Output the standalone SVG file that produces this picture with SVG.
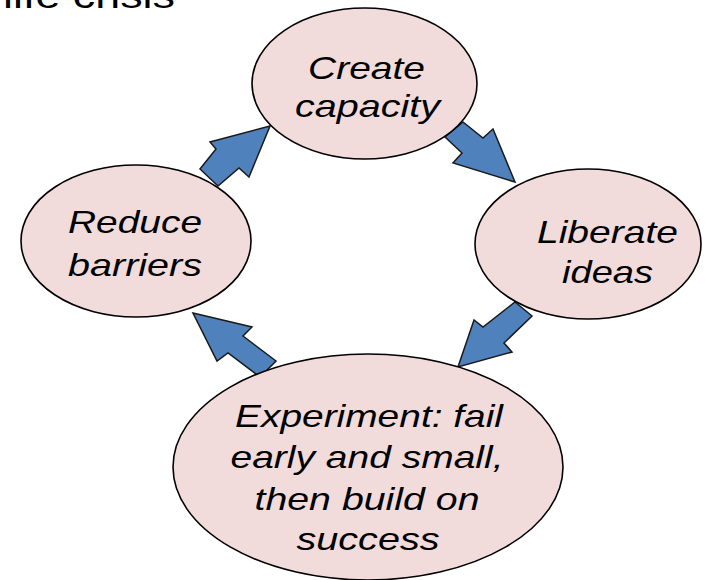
<svg xmlns="http://www.w3.org/2000/svg" width="709" height="580" viewBox="0 0 709 580">
<style>
.node ellipse{fill:#F2DCDB;stroke:#000;stroke-width:1.6}
.node text{font-family:"Liberation Sans",Arial,sans-serif;font-style:italic;font-size:32px;fill:#000;text-anchor:middle}
.arrow{fill:#4F81BD;stroke:#1a1a1a;stroke-width:1.5;stroke-linejoin:miter}
.title{font-family:"Liberation Sans",Arial,sans-serif;font-size:35px;fill:#000}
</style>
<rect width="709" height="580" fill="#fff"/>
<text class="title" x="3" y="8" textLength="172" lengthAdjust="spacingAndGlyphs">life crisis</text>
<g id="connectors">
<polygon class="arrow" points="270,126 210,142 216,149 200,169 218,186 239,168 249,177"/>
<polygon class="arrow" points="463,122 483,138 493,129 515,182 453,163 462,153 445,137"/>
<polygon class="arrow" points="515,302 532,316 504,343 512,352 458,367 474,320 483,327"/>
<polygon class="arrow" points="193,313 252,327 243,336 276,361 260,377 228,353 217,361"/>
</g>
<g id="create" class="node">
<ellipse cx="364.5" cy="83.5" rx="112.5" ry="75.5"/>
<text x="366.5" y="79" textLength="117" lengthAdjust="spacingAndGlyphs">Create</text>
<text x="367.5" y="117" textLength="145" lengthAdjust="spacingAndGlyphs">capacity</text>
</g>
<g id="liberate" class="node">
<ellipse cx="588" cy="244" rx="113" ry="75"/>
<text x="607.5" y="243" textLength="141" lengthAdjust="spacingAndGlyphs">Liberate</text>
<text x="607.5" y="283" textLength="91" lengthAdjust="spacingAndGlyphs">ideas</text>
</g>
<g id="reduce" class="node">
<ellipse cx="136" cy="241" rx="115" ry="76"/>
<text x="135" y="233" textLength="134" lengthAdjust="spacingAndGlyphs">Reduce</text>
<text x="135" y="276" textLength="134" lengthAdjust="spacingAndGlyphs">barriers</text>
</g>
<g id="experiment" class="node">
<ellipse cx="368" cy="467" rx="195" ry="113"/>
<text x="369" y="427" textLength="268" lengthAdjust="spacingAndGlyphs">Experiment: fail</text>
<text x="367" y="468" textLength="273" lengthAdjust="spacingAndGlyphs">early and small,</text>
<text x="367" y="510" textLength="225" lengthAdjust="spacingAndGlyphs">then build on</text>
<text x="368" y="550" textLength="143" lengthAdjust="spacingAndGlyphs">success</text>
</g>
</svg>
